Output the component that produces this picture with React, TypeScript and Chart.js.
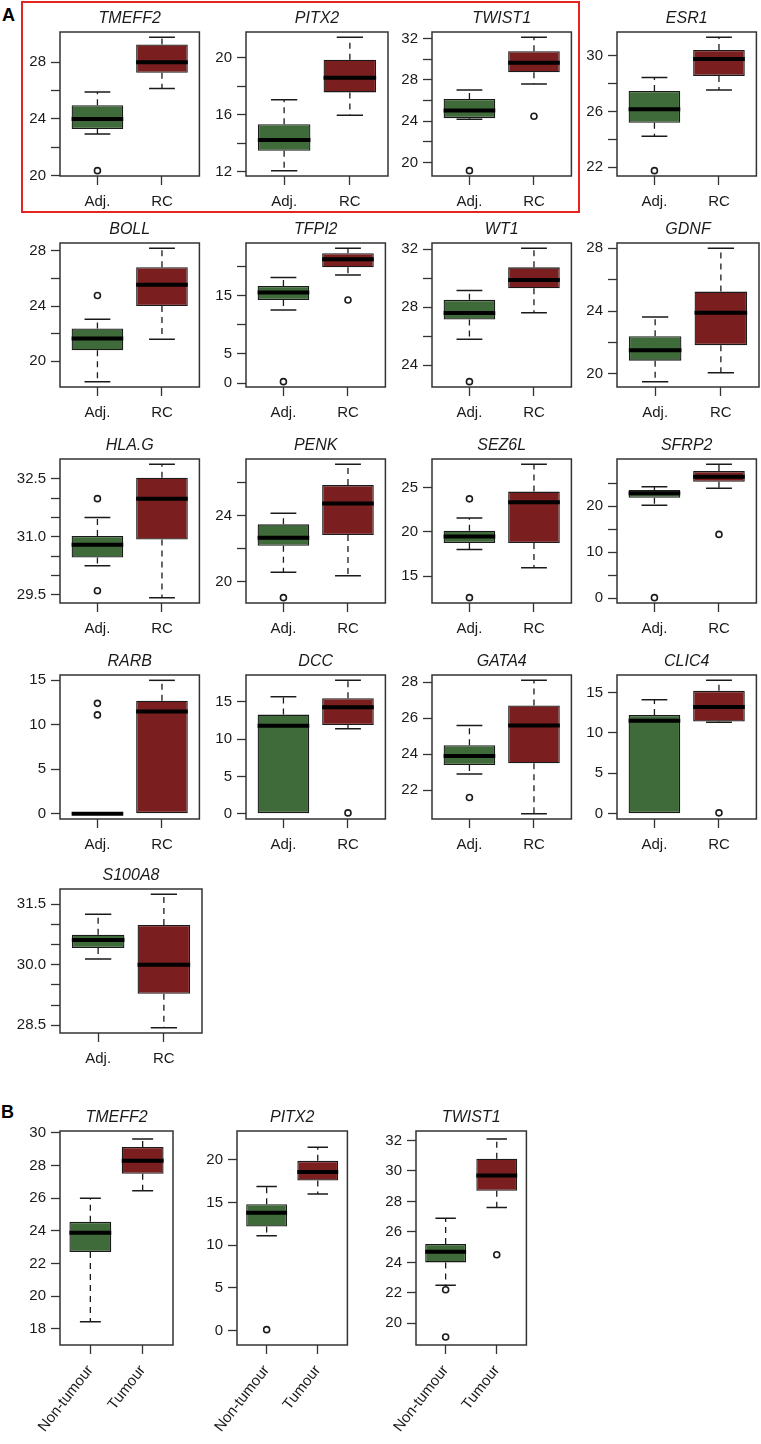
import React, { useEffect, useRef } from 'react';
import { Chart, registerables } from 'chart.js';
Chart.register(...registerables);

const FONT = '"Liberation Sans", Arial, Helvetica, sans-serif';
const GREEN = '#3f6a39';
const RED = '#7a1e1f';
const INK = '#1a1a1a';

// ---------- Panel A data ----------
const genesA = ['TMEFF2', 'PITX2', 'TWIST1', 'ESR1', 'BOLL', 'TFPI2', 'WT1', 'GDNF', 'HLA.G', 'PENK', 'SEZ6L', 'SFRP2', 'RARB', 'DCC', 'GATA4', 'CLIC4', 'S100A8'];
const groupsA = ['Adj.', 'RC'];
// each row: [lower whisker, Q1, median, Q3, upper whisker]
const adjStatsA = [
  [22.93, 23.28, 24.0, 24.96, 25.9],
  [12.07, 13.47, 14.22, 15.34, 17.06],
  [24.2, 24.3, 25.03, 26.16, 27.03],
  [24.22, 25.18, 26.15, 27.47, 28.43],
  [18.53, 20.8, 21.65, 22.37, 23.04],
  [12.53, 14.25, 15.51, 16.65, 18.09],
  [25.78, 27.15, 27.59, 28.5, 29.14],
  [19.49, 20.83, 21.5, 22.39, 23.62],
  [30.25, 30.46, 30.79, 31.02, 31.5],
  [20.57, 22.18, 22.67, 23.48, 24.15],
  [18.0, 18.75, 19.49, 20.13, 21.56],
  [20.2, 21.8, 22.76, 23.48, 24.2],
  [0, 0, 0, 0.15, 0.15],
  [0, 0, 11.8, 13.3, 15.7],
  [22.9, 23.4, 23.9, 24.5, 25.6],
  [0, 0, 11.5, 12.2, 14.1],
  [30.14, 30.41, 30.61, 30.74, 31.25],
];
const rcStatsA = [
  [26.15, 27.25, 28.0, 29.24, 29.75],
  [15.97, 17.57, 18.6, 19.86, 21.44],
  [27.61, 28.74, 29.65, 30.77, 32.12],
  [27.54, 28.55, 29.76, 30.41, 31.32],
  [21.6, 24.0, 25.53, 26.8, 28.17],
  [18.53, 19.85, 21.23, 22.26, 23.1],
  [27.61, 29.3, 29.87, 30.74, 32.05],
  [20.06, 21.82, 23.89, 25.24, 28.0],
  [29.42, 30.93, 31.99, 32.53, 32.88],
  [20.36, 22.83, 24.75, 25.86, 27.12],
  [15.94, 18.75, 23.36, 24.55, 27.63],
  [23.85, 25.28, 26.37, 27.6, 29.07],
  [0, 0, 11.48, 12.7, 15.0],
  [11.4, 11.9, 14.3, 15.5, 17.9],
  [20.7, 23.5, 25.6, 26.7, 28.1],
  [11.3, 11.4, 13.2, 15.2, 16.5],
  [28.44, 29.28, 30.0, 30.98, 31.74],
];
const adjOutliersA = [[20.35], [], [19.22], [21.74], [24.76], [0.25], [22.86], [], [31.99, 29.6], [19.03], [23.73, 12.57], [0.1], [12.41, 11.11], [], [21.6], [], []];
const rcOutliersA = [[], [], [24.48], [], [], [14.25], [], [], [], [], [], [13.85], [], [0.1], [], [0.1], []];
const yTicksA = [
  [20, 22, 24, 26, 28],
  [12, 14, 16, 18, 20],
  [20, 22, 24, 26, 28, 30, 32],
  [22, 24, 26, 28, 30],
  [20, 22, 24, 26, 28],
  [0, 5, 10, 15, 20],
  [24, 26, 28, 30, 32],
  [20, 22, 24, 26, 28],
  [29.5, 30, 30.5, 31, 31.5, 32, 32.5],
  [20, 22, 24, 26],
  [15, 20, 25],
  [0, 5, 10, 15, 20, 25],
  [0, 5, 10, 15],
  [0, 5, 10, 15],
  [22, 24, 26, 28],
  [0, 5, 10, 15],
  [28.5, 29, 29.5, 30, 30.5, 31, 31.5],
];
const yLabelsA = [
  ['20', '', '24', '', '28'],
  ['12', '', '16', '', '20'],
  ['20', '', '24', '', '28', '', '32'],
  ['22', '', '26', '', '30'],
  ['20', '', '24', '', '28'],
  ['0', '5', '', '15', ''],
  ['24', '', '28', '', '32'],
  ['20', '', '24', '', '28'],
  ['29.5', '', '', '31.0', '', '', '32.5'],
  ['20', '', '24', ''],
  ['15', '20', '25'],
  ['0', '', '10', '', '20', ''],
  ['0', '5', '10', '15'],
  ['0', '5', '10', '15'],
  ['22', '24', '26', '28'],
  ['0', '5', '10', '15'],
  ['28.5', '', '', '30.0', '', '', '31.5'],
];

// ---------- Panel B data ----------
const genesB = ['TMEFF2', 'PITX2', 'TWIST1'];
const groupsB = ['Non-tumour', 'Tumour'];
const nonTumourStatsB = [
  [18.43, 22.7, 23.88, 24.55, 26.0],
  [11.1, 12.2, 13.8, 14.8, 16.9],
  [22.5, 24.0, 24.7, 25.2, 26.9],
];
const tumourStatsB = [
  [26.45, 27.5, 28.3, 29.14, 29.63],
  [16.0, 17.6, 18.6, 19.9, 21.5],
  [27.6, 28.7, 29.7, 30.8, 32.1],
];
const nonTumourOutliersB = [[], [0.1], [22.2, 19.1]];
const tumourOutliersB = [[], [], [24.5]];
const yTicksB = [
  [18, 20, 22, 24, 26, 28, 30],
  [0, 5, 10, 15, 20],
  [20, 22, 24, 26, 28, 30, 32],
];
const yRangeB = [
  [17.0, 30.12],
  [-1.7, 23.4],
  [18.58, 32.62],
];

// ---------- layout ----------
const colLeftA = [60, 246, 432, 617];
const rowTopA = [32, 243, 459, 675, 889];
const frameWA = 142;
const frameHA = 144;
const colLeftB = [60, 237, 416];
const rowTopB = 1131;
const frameWB = 113;
const frameHB = 214;
const Y_W = 56;
const TITLE_H = 23;
const RIGHT_PAD = 3;

type Spec = {
  title: string;
  groups: string[];
  stats: number[][];
  outliers: number[][];
  ticks: number[];
  labels: string[];
  range?: number[];
  left: number;
  top: number;
  w: number;
  h: number;
  xAxisH: number;
  rot: number;
};

const boxExtras = {
  id: 'boxExtras',
  afterDatasetsDraw(chart: any, _args: any, opts: any) {
    const { ctx, chartArea, scales } = chart;
    const stats: number[][] = opts.stats || [];
    const meta = chart.getDatasetMeta(0);
    const ys = (v: number) => scales.y.getPixelForValue(v);
    ctx.save();
    stats.forEach((s, i) => {
      const bar = meta.data[i];
      if (!bar) return;
      const x = bar.x;
      const w = bar.width;
      ctx.strokeStyle = INK;
      ctx.lineWidth = 1.3;
      ctx.lineCap = 'butt';
      ctx.setLineDash([6, 5]);
      ctx.beginPath();
      if (s[4] > s[3]) { ctx.moveTo(x, ys(s[3])); ctx.lineTo(x, ys(s[4])); }
      if (s[0] < s[1]) { ctx.moveTo(x, ys(s[1])); ctx.lineTo(x, ys(s[0])); }
      ctx.stroke();
      ctx.setLineDash([]);
      ctx.lineWidth = 1.5;
      ctx.beginPath();
      if (s[4] > s[3]) { ctx.moveTo(x - w / 4, ys(s[4])); ctx.lineTo(x + w / 4, ys(s[4])); }
      if (s[0] < s[1]) { ctx.moveTo(x - w / 4, ys(s[0])); ctx.lineTo(x + w / 4, ys(s[0])); }
      ctx.stroke();
      ctx.lineWidth = 4;
      ctx.strokeStyle = '#000';
      ctx.beginPath();
      ctx.moveTo(x - w / 2, ys(s[2]));
      ctx.lineTo(x + w / 2, ys(s[2]));
      ctx.stroke();
    });
    ctx.strokeStyle = '#333';
    ctx.lineWidth = 1.5;
    ctx.strokeRect(chartArea.left, chartArea.top, chartArea.right - chartArea.left, chartArea.bottom - chartArea.top);
    ctx.restore();
  },
};

function BoxChart({ spec }: { spec: Spec }) {
  const ref = useRef<HTMLCanvasElement>(null);
  const cw = Y_W + spec.w + RIGHT_PAD;
  const ch = TITLE_H + spec.h + spec.xAxisH;
  useEffect(() => {
    if (!ref.current) return;
    const all = spec.stats.flat().concat(spec.outliers.flat());
    const lo = Math.min(...all);
    const hi = Math.max(...all);
    const pad = (hi - lo) * 0.04;
    const yMin = spec.range ? spec.range[0] : lo - pad;
    const yMax = spec.range ? spec.range[1] : hi + pad;
    const tickFont = { family: FONT, size: 15 };
    const grid = {
      display: true,
      drawOnChartArea: false,
      drawTicks: true,
      tickLength: 9,
      tickWidth: 1.3,
      tickColor: '#333',
      offset: false,
    };
    const chart = new Chart(ref.current, {
      type: 'bar',
      data: {
        datasets: [
          {
            type: 'bar',
            data: spec.stats.map((s, i) => ({ x: i + 1, y: [s[1], s[3]] })),
            backgroundColor: [GREEN, RED],
            borderColor: INK,
            borderWidth: 1.3,
            borderSkipped: false,
            barPercentage: 0.8,
            categoryPercentage: 1,
          } as any,
          {
            type: 'scatter',
            data: spec.outliers.flatMap((arr, i) => arr.map((v) => ({ x: i + 1, y: v }))),
            pointRadius: 3,
            pointBorderWidth: 1.6,
            pointBorderColor: INK,
            pointBackgroundColor: '#ffffff',
            showLine: false,
          } as any,
        ],
      },
      options: {
        responsive: false,
        animation: false,
        events: [],
        layout: { padding: { left: 0, right: RIGHT_PAD, top: 0, bottom: 0 } },
        plugins: {
          legend: { display: false },
          tooltip: { enabled: false },
          title: {
            display: true,
            text: spec.title,
            fullSize: false,
            color: INK,
            font: { family: FONT, size: 16, style: 'italic', weight: 'normal', lineHeight: 1.25 },
            padding: { top: 0, bottom: 3 },
          },
          boxExtras: { stats: spec.stats },
        } as any,
        scales: {
          x: {
            type: 'linear',
            min: 0.42,
            max: 2.58,
            offset: false,
            bounds: 'data',
            afterBuildTicks: (s: any) => { s.ticks = [{ value: 1 }, { value: 2 }]; },
            afterFit: (s: any) => { s.height = spec.xAxisH; },
            ticks: {
              callback: (v: any) => spec.groups[Math.round(Number(v)) - 1],
              autoSkip: false,
              maxRotation: spec.rot,
              minRotation: spec.rot,
              color: INK,
              font: tickFont,
              padding: 8,
            },
            grid,
            border: { display: false },
          },
          y: {
            type: 'linear',
            min: yMin,
            max: yMax,
            beginAtZero: false,
            bounds: 'data',
            afterBuildTicks: (s: any) => { s.ticks = spec.ticks.map((v) => ({ value: v })); },
            afterFit: (s: any) => { s.width = Y_W; },
            ticks: {
              callback: (_v: any, i: number) => spec.labels[i],
              autoSkip: false,
              color: INK,
              font: tickFont,
              padding: 5,
            },
            grid,
            border: { display: false },
          },
        } as any,
      },
      plugins: [boxExtras],
    });
    return () => chart.destroy();
  }, [spec]);
  return (
    <canvas
      ref={ref}
      width={cw}
      height={ch}
      style={{ position: 'absolute', left: spec.left - Y_W, top: spec.top - TITLE_H, width: cw, height: ch }}
    />
  );
}

const specsA: Spec[] = genesA.map((g, i) => ({
  title: g,
  groups: groupsA,
  stats: [adjStatsA[i], rcStatsA[i]],
  outliers: [adjOutliersA[i], rcOutliersA[i]],
  ticks: yTicksA[i],
  labels: yLabelsA[i],
  left: colLeftA[i % 4],
  top: rowTopA[Math.floor(i / 4)],
  w: frameWA,
  h: frameHA,
  xAxisH: 36,
  rot: 0,
}));

const specsB: Spec[] = genesB.map((g, i) => ({
  title: g,
  groups: groupsB,
  stats: [nonTumourStatsB[i], tumourStatsB[i]],
  outliers: [nonTumourOutliersB[i], tumourOutliersB[i]],
  ticks: yTicksB[i],
  labels: yTicksB[i].map((v) => String(v)),
  range: yRangeB[i],
  left: colLeftB[i],
  top: rowTopB,
  w: frameWB,
  h: frameHB,
  xAxisH: 100,
  rot: 52,
}));

export default function App() {
  return (
    <div style={{ position: 'absolute', left: 0, top: 0, width: 761, height: 1444, overflow: 'hidden', background: '#fff', fontFamily: FONT }}>
      <div style={{ position: 'absolute', left: 21, top: 1, width: 559, height: 212, border: '2px solid #e3241f', boxSizing: 'border-box' }} />
      <div style={{ position: 'absolute', left: 2, top: 6, fontSize: 18, fontWeight: 'bold', lineHeight: '18px', color: '#000' }}>A</div>
      <div style={{ position: 'absolute', left: 1, top: 1103, fontSize: 18, fontWeight: 'bold', lineHeight: '18px', color: '#000' }}>B</div>
      {specsA.map((s) => <BoxChart key={'A' + s.title} spec={s} />)}
      {specsB.map((s) => <BoxChart key={'B' + s.title} spec={s} />)}
    </div>
  );
}
